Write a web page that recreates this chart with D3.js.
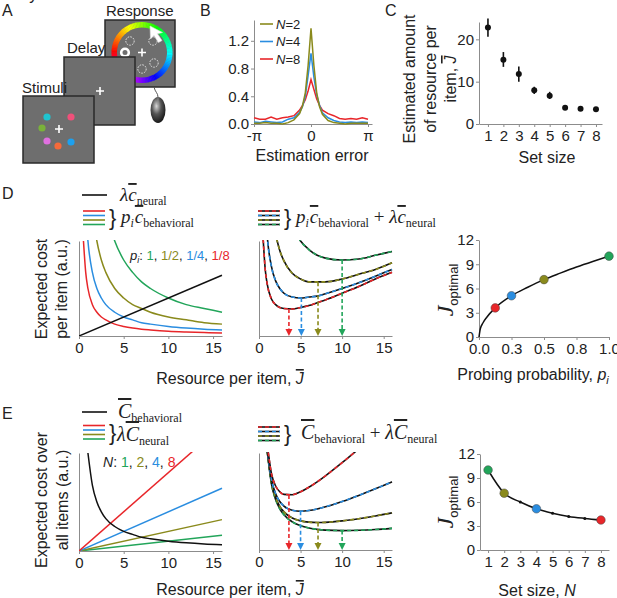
<!DOCTYPE html>
<html>
<head>
<meta charset="utf-8">
<script src="https://cdn.jsdelivr.net/npm/d3@7"></script>
<style>
body { margin: 0; background: #fff; }
text { font-family: "Liberation Sans", Arial, sans-serif; fill: #222; }
</style>
</head>
<body>
<svg id="fig" width="617" height="598"></svg>
<script>
// ---- data ----
// B: error distributions, x in units of pi
var errX   = [-1,-0.9,-0.8,-0.7,-0.6,-0.5,-0.4,-0.3,-0.2,-0.15,-0.1,-0.05,0,0.05,0.1,0.15,0.2,0.3,0.4,0.5,0.6,0.7,0.8,0.9,1];
var probN2 = [0.01,0.01,0.02,0.01,0.01,0.0,0.02,0.06,0.15,0.26,0.45,0.85,1.38,0.85,0.45,0.25,0.14,0.05,0.02,0.01,0.0,0.01,0.01,0.01,0.01];
var probN4 = [0.03,0.02,0.04,0.03,0.02,0.03,0.07,0.09,0.17,0.25,0.40,0.70,1.02,0.68,0.42,0.27,0.16,0.09,0.05,0.03,0.02,0.03,0.02,0.03,0.02];
var probN8 = [0.09,0.07,0.07,0.10,0.07,0.09,0.10,0.12,0.20,0.27,0.35,0.48,0.64,0.50,0.36,0.27,0.20,0.15,0.12,0.08,0.07,0.08,0.07,0.09,0.07];
var bLegend = ["2", "4", "8"];

// C: estimated resource per item
var setSizes = [1,2,3,4,5,6,7,8];
var jMean = [22.8,15.2,11.8,8.0,6.7,3.85,3.6,3.5];
var jLo   = [20.6,13.5,10.0,7.1,5.9,3.55,3.3,3.2];
var jHi   = [24.9,17.0,13.6,8.8,7.6,4.15,3.9,3.8];

// D, E: resource grid
var jGrid = [0.5,0.75,1,1.5,2,2.5,3,4,5,6,7,8,10,12,14,16];
// D left: p_i * behavioral cost
var dBehRed   = [1.0,0.67,0.5,0.33,0.25,0.2,0.17,0.125,0.1,0.083,0.071,0.063,0.05,0.042,0.036,0.031];
var dBehBlue  = [null,1.33,1.0,0.67,0.5,0.4,0.33,0.25,0.2,0.17,0.14,0.125,0.1,0.083,0.071,0.063];
var dBehOlive = [null,null,null,1.33,1.0,0.8,0.67,0.5,0.4,0.33,0.29,0.25,0.2,0.17,0.14,0.125];
var dBehGreen = [null,null,null,null,null,null,1.33,1.0,0.8,0.67,0.57,0.5,0.4,0.33,0.29,0.25];
var dNeuralJ = [0,16];
var dNeural  = [0,0.64];
// D middle: total cost
var dTotRed   = [1.02,0.70,0.54,0.39,0.33,0.30,0.29,0.285,0.30,0.32,0.35,0.38,0.45,0.52,0.60,0.67];
var dTotBlue  = [null,1.36,1.04,0.73,0.58,0.50,0.45,0.41,0.40,0.41,0.42,0.445,0.50,0.56,0.63,0.70];
var dTotOlive = [null,null,null,1.39,1.08,0.90,0.79,0.66,0.60,0.57,0.57,0.57,0.60,0.65,0.70,0.77];
var dTotGreen = [null,null,null,null,null,null,1.45,1.16,1.0,0.91,0.85,0.82,0.80,0.81,0.85,0.89];
var dOptJ    = [3.6,5.1,7.1,10];
var dOptCost = [0.283,0.40,0.566,0.80];
// D right: optimal J vs probing probability
var pGrid   = [0,0.01,0.03,0.06,0.125,0.25,0.375,0.5,0.625,0.75,0.875,1];
var pJopt   = [0,1.0,1.73,2.45,3.6,5.1,6.15,7.1,7.9,8.66,9.35,10];
var pMarks  = [0.125,0.25,0.5,1];
var pMarkJ  = [3.6,5.1,7.1,10];
var pLabels = ["1","1/2","1/4","1/8"];

// E left
var eBeh = [null,null,1.0,0.67,0.5,0.4,0.33,0.25,0.2,0.17,0.14,0.125,0.1,0.083,0.071,0.063];
var eNeuralJ = [0,16];
var eNeuralN1 = [0,0.16], eNeuralN2 = [0,0.32], eNeuralN4 = [0,0.64], eNeuralN8 = [0,1.28];
// E middle: total cost
var eTotN1 = [null,null,1.01,0.68,0.52,0.425,0.363,0.29,0.25,0.227,0.213,0.205,0.20,0.203,0.211,0.223];
var eTotN2 = [null,null,1.02,0.70,0.54,0.45,0.393,0.33,0.30,0.287,0.283,0.285,0.30,0.323,0.351,0.383];
var eTotN4 = [null,null,1.04,0.727,0.58,0.50,0.453,0.41,0.40,0.407,0.423,0.445,0.50,0.563,0.631,0.703];
var eTotN8 = [null,null,1.08,0.787,0.66,0.60,0.573,0.57,0.60,0.647,0.703,0.765,0.90,1.043,1.19,null];
var eOptJ    = [3.6,5.0,7.1,10];
var eOptCost = [0.566,0.40,0.283,0.20];
// E right
var eSetJopt = [10,7.1,6.0,5.15,4.6,4.2,3.95,3.75];
var nLabels = ["1","2","4","8"];

var cRed = "#e8262a", cBlue = "#2a8de0", cOlive = "#8a8a1c", cGreen = "#22a55a";
var axCol = "#8c8c8c";

var svg = d3.select("#fig");
svg.append("rect").attr("width", 617).attr("height", 598).attr("fill", "#fff");

function letter(t, x, y) {
    svg.append("text").attr("x", x).attr("y", y).attr("font-size", 16).text(t);
}

function axes(x, y, xTicks, yTicks, xFmt) {
    var gx = svg.append("g")
        .attr("transform", "translate(0," + y.range()[0] + ")")
        .call(d3.axisBottom(x).tickValues(xTicks).tickFormat(xFmt || null)
            .tickSize(3).tickSizeOuter(0).tickPadding(3));
    var gy = svg.append("g")
        .attr("transform", "translate(" + x.range()[0] + ",0)")
        .call(d3.axisLeft(y).tickValues(yTicks).tickSize(3).tickSizeOuter(0).tickPadding(2));
    [gx, gy].forEach(function(a) {
        a.attr("font-family", "Liberation Sans, Arial, sans-serif").attr("font-size", 15);
        a.select(".domain").attr("stroke", axCol);
        a.selectAll(".tick line").attr("stroke", axCol);
        a.selectAll(".tick text").attr("fill", "#333");
    });
}

function vlabel(lines, x, y, gap, fs) {
    lines.forEach(function(l, i) {
        svg.append("text")
            .attr("transform", "translate(" + (x + i * gap) + "," + y + ") rotate(-90)")
            .attr("text-anchor", "middle").attr("font-size", fs || 16).text(l);
    });
}

function clip(id, x, y) {
    svg.append("clipPath").attr("id", id).append("rect")
        .attr("x", x.range()[0]).attr("y", y.range()[1] - 1)
        .attr("width", x.range()[1] - x.range()[0] + 2)
        .attr("height", y.range()[0] - y.range()[1] + 1);
}

function curve(x, y, xs, ys, col, cp, dashed) {
    var pts = xs.map(function(v, i) { return [v, ys[i]]; }).filter(function(d) { return d[1] != null; });
    var line = d3.line().x(function(d) { return x(d[0]); }).y(function(d) { return y(d[1]); })
        .curve(d3.curveMonotoneX);
    var g = svg.append("g").attr("clip-path", "url(#" + cp + ")");
    if (dashed) {
        g.append("path").datum(pts).attr("d", line).attr("fill", "none").attr("stroke", "#111").attr("stroke-width", 1.6);
        g.append("path").datum(pts).attr("d", line).attr("fill", "none").attr("stroke", col)
            .attr("stroke-width", 1.6).attr("stroke-dasharray", "4,3");
    } else {
        g.append("path").datum(pts).attr("d", line).attr("fill", "none").attr("stroke", col).attr("stroke-width", 1.5);
    }
}

function arrows(x, y, js, cs, cols) {
    js.forEach(function(j, i) {
        var px = x(j), top = y(cs[i]), bot = y.range()[0];
        svg.append("line").attr("x1", px).attr("x2", px).attr("y1", top).attr("y2", bot - 6)
            .attr("stroke", cols[i]).attr("stroke-width", 1.6).attr("stroke-dasharray", "4,2.5");
        svg.append("path").attr("d", "M" + (px - 3.5) + "," + (bot - 7) + "L" + (px + 3.5) + "," + (bot - 7) + "L" + px + "," + bot + "Z")
            .attr("fill", cols[i]);
    });
}

// formula helper: parts = [text, {italic, size, dy, over, dx}]
function formula(x, y, parts) {
    var t = svg.append("text").attr("x", x).attr("y", y)
        .attr("font-family", "Liberation Serif, Times New Roman, serif");
    parts.forEach(function(p) {
        var s = t.append("tspan").text(p[0])
            .attr("font-family", "Liberation Serif, Times New Roman, serif")
            .attr("font-size", p[1].size || 19)
            .attr("font-style", p[1].italic ? "italic" : "normal");
        if (p[1].dy) s.attr("dy", p[1].dy);
        if (p[1].dx) s.attr("dx", p[1].dx);
        if (p[1].over) s.style("text-decoration", "overline");
    });
}

function legendLines(x, ys, cols, dashed) {
    ys.forEach(function(yy, i) {
        if (dashed) svg.append("line").attr("x1", x).attr("x2", x + 22).attr("y1", yy).attr("y2", yy)
            .attr("stroke", "#111").attr("stroke-width", 1.6);
        svg.append("line").attr("x1", x).attr("x2", x + 22).attr("y1", yy).attr("y2", yy)
            .attr("stroke", cols[i]).attr("stroke-width", 1.6).attr("stroke-dasharray", dashed ? "4,3" : null);
    });
}

function brace(x, y) {
    svg.append("text").attr("x", x).attr("y", y).attr("font-size", 22)
        .attr("font-family", "Liberation Serif, serif").text("}");
}

// ================= A: task =================
letter("A", 2, 16);
var gA = svg.append("g");
function screen(x, y, w, h) {
    gA.append("rect").attr("x", x).attr("y", y).attr("width", w).attr("height", h)
        .attr("fill", "#6e6e6e").attr("stroke", "#2a2a2a").attr("stroke-width", 1.5);
}
function cross(cx, cy) {
    gA.append("path").attr("d", "M" + (cx - 4) + "," + cy + "H" + (cx + 4) + "M" + cx + "," + (cy - 4) + "V" + (cy + 4))
        .attr("stroke", "#fff").attr("stroke-width", 1.6);
}
// response screen
screen(105, 20, 70, 67);
var wheel = d3.arc().innerRadius(25).outerRadius(30.5);
d3.range(0, 120).forEach(function(i) {
    var a0 = i / 120 * 2 * Math.PI, a1 = (i + 1.2) / 120 * 2 * Math.PI;
    var hue = ((i / 120 * 360) + 90) % 360;
    gA.append("path").attr("transform", "translate(142,52.5)")
        .attr("d", wheel({startAngle: a0, endAngle: a1}))
        .attr("fill", d3.hsl(hue, 1, 0.5).toString());
});
[[130, 41], [153, 41], [142, 69], [154, 63]].forEach(function(p) {
    gA.append("circle").attr("cx", p[0]).attr("cy", p[1]).attr("r", 4.2).attr("fill", "none")
        .attr("stroke", "#eee").attr("stroke-width", 0.9).attr("stroke-dasharray", "1.6,1.2");
});
gA.append("circle").attr("cx", 125).attr("cy", 52.5).attr("r", 3.8).attr("fill", "#6e6e6e")
    .attr("stroke", "#fff").attr("stroke-width", 2.6);
cross(142, 52.5);
gA.append("path").attr("d", "M150,26 L150.5,39 L154,35.5 L158.5,42.5 L162,40.5 L157.5,33.8 L162.5,32.5 Z")
    .attr("fill", "#fff").attr("stroke", "#ddd").attr("stroke-width", 0.6);
// mouse
var grad = svg.append("defs").append("radialGradient").attr("id", "mouseG").attr("cx", "40%").attr("cy", "35%").attr("r", "70%");
grad.append("stop").attr("offset", "0%").attr("stop-color", "#d8d8d8");
grad.append("stop").attr("offset", "45%").attr("stop-color", "#555");
grad.append("stop").attr("offset", "100%").attr("stop-color", "#111");
gA.append("path").attr("d", "M154,87 C155,92 158,93 158,97").attr("fill", "none").attr("stroke", "#555").attr("stroke-width", 1);
gA.append("ellipse").attr("cx", 158).attr("cy", 110).attr("rx", 7.5).attr("ry", 13).attr("fill", "url(#mouseG)");
gA.append("path").attr("d", "M158,97.5 V105").attr("stroke", "#999").attr("stroke-width", 0.7);
// delay screen
screen(64, 57, 71, 68);
cross(100, 91);
// stimuli screen
screen(23, 96, 71, 67);
cross(59, 129);
[[47, 117, "#1fc4d0"], [71, 117, "#f0507a"], [42, 128, "#7ab23a"], [47, 141, "#e070e0"], [58, 146, "#f66a3a"], [71, 142, "#1da0ee"]]
    .forEach(function(p) {
        gA.append("circle").attr("cx", p[0]).attr("cy", p[1]).attr("r", 3.6).attr("fill", p[2]);
    });
svg.append("text").attr("x", 106).attr("y", 16).attr("font-size", 15).text("Response");
svg.append("text").attr("x", 67).attr("y", 53).attr("font-size", 15).text("Delay");
svg.append("text").attr("x", 22).attr("y", 93).attr("font-size", 15).text("Stimuli");

// ================= B =================
letter("B", 200, 16);
var xB = d3.scaleLinear().domain([-1, 1.07]).range([254, 372]);
var yB = d3.scaleLinear().domain([0, 1.5]).range([124, 20]);
axes(xB, yB, [-1, 0, 1], [0, 0.4, 0.8, 1.2], function(d) { return d === -1 ? "-\u03c0" : d === 1 ? "\u03c0" : "0"; });
var lineB = d3.line().x(function(d, i) { return xB(errX[i]); }).y(function(d) { return yB(d); });
[[probN8, cRed], [probN4, cBlue], [probN2, cOlive]].forEach(function(s) {
    svg.append("path").datum(s[0]).attr("d", lineB).attr("fill", "none").attr("stroke", s[1]).attr("stroke-width", 1.5);
});
[cOlive, cBlue, cRed].forEach(function(c, i) {
    var yy = 24 + i * 17.5;
    svg.append("line").attr("x1", 260).attr("x2", 273).attr("y1", yy).attr("y2", yy).attr("stroke", c).attr("stroke-width", 1.6);
    var t = svg.append("text").attr("x", 276).attr("y", yy + 4.5).attr("font-size", 13);
    t.append("tspan").attr("font-style", "italic").text("N");
    t.append("tspan").text("=" + bLegend[i]);
});
vlabel(["Probability"], 220, 70);
svg.append("text").attr("x", 312).attr("y", 161).attr("text-anchor", "middle").attr("font-size", 16).text("Estimation error");

// ================= C =================
letter("C", 385, 16);
var xC = d3.scaleLinear().domain([0.42, 8.39]).range([479, 602]);
var yC = d3.scaleLinear().domain([0, 24.1]).range([124, 22]);
axes(xC, yC, setSizes, [0, 10, 20]);
setSizes.forEach(function(s, i) {
    svg.append("line").attr("x1", xC(s)).attr("x2", xC(s)).attr("y1", yC(jLo[i])).attr("y2", yC(jHi[i]))
        .attr("stroke", "#111").attr("stroke-width", 1.6);
    svg.append("circle").attr("cx", xC(s)).attr("cy", yC(jMean[i])).attr("r", 3).attr("fill", "#111");
});
vlabel(["Estimated amount", "of resource per"], 415, 79, 21);
var tJ = svg.append("text").attr("transform", "translate(456,79) rotate(-90)").attr("text-anchor", "middle").attr("font-size", 16);
tJ.append("tspan").text("item, ");
tJ.append("tspan").attr("font-style", "italic").style("text-decoration", "overline").text("J");
svg.append("text").attr("x", 547).attr("y", 163).attr("text-anchor", "middle").attr("font-size", 16).text("Set size");

// ================= D =================
letter("D", 2, 199);
// legends
svg.append("line").attr("x1", 82).attr("x2", 107).attr("y1", 195).attr("y2", 195).attr("stroke", "#111").attr("stroke-width", 1.6);
formula(120, 201, [["\u03bb", {italic: true}], ["c", {italic: true, over: true}], ["neural", {size: 12, dy: 4}]]);
legendLines(83, [211, 215.5, 220, 224.5], [cRed, cBlue, cOlive, cGreen], false);
brace(109, 225);
formula(121, 223, [["p", {italic: true}], ["i", {italic: true, size: 12, dy: 4}], ["c", {italic: true, over: true, dy: -4, dx: 1}], ["behavioral", {size: 12, dy: 4}]]);
legendLines(258, [211, 215.5, 220, 224.5], [cRed, cBlue, cOlive, cGreen], true);
brace(284, 225);
formula(296, 223, [["p", {italic: true}], ["i", {italic: true, size: 12, dy: 4}], ["c", {italic: true, over: true, dy: -4, dx: 1}], ["behavioral", {size: 12, dy: 4}],
    [" + ", {size: 19, dy: -4}], ["\u03bb", {italic: true}], ["c", {italic: true, over: true}], ["neural", {size: 12, dy: 4}]]);

// D left
var xD1 = d3.scaleLinear().domain([0, 16]).range([79, 222]);
var yD1 = d3.scaleLinear().domain([0, 1]).range([336, 241]);
axes(xD1, yD1, [0, 5, 10, 15], []);
clip("cD1", xD1, yD1);
curve(xD1, yD1, jGrid, dBehGreen, cGreen, "cD1");
curve(xD1, yD1, jGrid, dBehOlive, cOlive, "cD1");
curve(xD1, yD1, jGrid, dBehBlue, cBlue, "cD1");
curve(xD1, yD1, jGrid, dBehRed, cRed, "cD1");
curve(xD1, yD1, dNeuralJ, dNeural, "#111", "cD1");
var tp = svg.append("text").attr("x", 130).attr("y", 260).attr("font-size", 13);
tp.append("tspan").attr("font-style", "italic").text("p");
tp.append("tspan").attr("font-style", "italic").attr("font-size", 9).attr("dy", 3).text("i");
tp.append("tspan").attr("dy", -3).text(": ");
[cGreen, cOlive, cBlue, cRed].forEach(function(c, i) {
    tp.append("tspan").attr("fill", c).text(pLabels[i]);
    if (i < 3) tp.append("tspan").text(", ");
});
vlabel(["Expected cost", "per item (a.u.)"], 47, 289, 20);

// D middle
var xD2 = d3.scaleLinear().domain([0, 16]).range([259, 392]);
var yD2 = d3.scaleLinear().domain([0, 1]).range([336, 241]);
axes(xD2, yD2, [0, 5, 10, 15], []);
clip("cD2", xD2, yD2);
curve(xD2, yD2, jGrid, dTotGreen, cGreen, "cD2", true);
curve(xD2, yD2, jGrid, dTotOlive, cOlive, "cD2", true);
curve(xD2, yD2, jGrid, dTotBlue, cBlue, "cD2", true);
curve(xD2, yD2, jGrid, dTotRed, cRed, "cD2", true);
arrows(xD2, yD2, dOptJ, dOptCost, [cRed, cBlue, cOlive, cGreen]);
var tR = svg.append("text").attr("x", 230).attr("y", 384).attr("text-anchor", "middle").attr("font-size", 16);
tR.append("tspan").text("Resource per item, ");
tR.append("tspan").attr("font-style", "italic").style("text-decoration", "overline").text("J");

// D right
var xD3 = d3.scaleLinear().domain([0, 1]).range([479, 609]);
var yD3 = d3.scaleLinear().domain([0, 12]).range([337, 240]);
axes(xD3, yD3, [0, 0.25, 0.5, 0.75, 1], [0, 3, 6, 9, 12]);
svg.append("path").datum(pGrid.map(function(p, i) { return [p, pJopt[i]]; }))
    .attr("d", d3.line().x(function(d) { return xD3(d[0]); }).y(function(d) { return yD3(d[1]); }).curve(d3.curveMonotoneX))
    .attr("fill", "none").attr("stroke", "#111").attr("stroke-width", 1.5);
[cRed, cBlue, cOlive, cGreen].forEach(function(c, i) {
    svg.append("circle").attr("cx", xD3(pMarks[i])).attr("cy", yD3(pMarkJ[i])).attr("r", 4.3)
        .attr("fill", c).attr("stroke", "#444").attr("stroke-width", 0.5);
});
function jOptLabel(x, y) {
    var t = svg.append("text").attr("transform", "translate(" + x + "," + y + ") rotate(-90)").attr("text-anchor", "middle");
    t.append("tspan").attr("font-family", "Liberation Serif, serif").attr("font-style", "italic").attr("font-size", 24).text("J");
    t.append("tspan").attr("font-size", 13).attr("dy", 5).text("optimal");
}
jOptLabel(453, 290);
var tPr = svg.append("text").attr("x", 533).attr("y", 380).attr("text-anchor", "middle").attr("font-size", 16);
tPr.append("tspan").text("Probing probability, ");
tPr.append("tspan").attr("font-style", "italic").text("p");
tPr.append("tspan").attr("font-style", "italic").attr("font-size", 11).attr("dy", 4).text("i");

// ================= E =================
letter("E", 2, 419);
svg.append("line").attr("x1", 82).attr("x2", 107).attr("y1", 412).attr("y2", 412).attr("stroke", "#111").attr("stroke-width", 1.6);
formula(118, 418, [["C", {italic: true, over: true, size: 20}], ["behavioral", {size: 12, dy: 4}]]);
legendLines(83, [425.5, 430, 434.5, 439], [cRed, cBlue, cOlive, cGreen], false);
brace(109, 440);
formula(117, 441, [["\u03bb", {italic: true, size: 20}], ["C", {italic: true, over: true, size: 20}], ["neural", {size: 12, dy: 4}]]);
legendLines(258, [427, 431.5, 436, 440.5], [cRed, cBlue, cOlive, cGreen], true);
brace(284, 441);
formula(301, 439, [["C", {italic: true, over: true, size: 20}], ["behavioral", {size: 12, dy: 4}],
    [" + ", {size: 19, dy: -4}], ["\u03bb", {italic: true, size: 20}], ["C", {italic: true, over: true, size: 20}], ["neural", {size: 12, dy: 4}]]);

// E left
var xE1 = d3.scaleLinear().domain([0, 16]).range([79, 222]);
var yE1 = d3.scaleLinear().domain([0, 1]).range([551, 453]);
axes(xE1, yE1, [0, 5, 10, 15], []);
clip("cE1", xE1, yE1);
curve(xE1, yE1, eNeuralJ, eNeuralN1, cGreen, "cE1");
curve(xE1, yE1, eNeuralJ, eNeuralN2, cOlive, "cE1");
curve(xE1, yE1, eNeuralJ, eNeuralN4, cBlue, "cE1");
curve(xE1, yE1, eNeuralJ, eNeuralN8, cRed, "cE1");
curve(xE1, yE1, jGrid, eBeh, "#111", "cE1");
var tN = svg.append("text").attr("x", 103).attr("y", 467).attr("font-size", 14);
tN.append("tspan").attr("font-style", "italic").text("N");
tN.append("tspan").text(": ");
[cGreen, cOlive, cBlue, cRed].forEach(function(c, i) {
    tN.append("tspan").attr("fill", c).text(nLabels[i]);
    if (i < 3) tN.append("tspan").text(", ");
});
vlabel(["Expected cost over", "all items (a.u.)"], 47, 500, 21);

// E middle
var xE2 = d3.scaleLinear().domain([0, 16]).range([259, 392]);
var yE2 = d3.scaleLinear().domain([0, 1]).range([550, 453]);
axes(xE2, yE2, [0, 5, 10, 15], []);
clip("cE2", xE2, yE2);
curve(xE2, yE2, jGrid, eTotN1, cGreen, "cE2", true);
curve(xE2, yE2, jGrid, eTotN2, cOlive, "cE2", true);
curve(xE2, yE2, jGrid, eTotN4, cBlue, "cE2", true);
curve(xE2, yE2, jGrid, eTotN8, cRed, "cE2", true);
arrows(xE2, yE2, eOptJ, eOptCost, [cRed, cBlue, cOlive, cGreen]);
var tR2 = svg.append("text").attr("x", 230).attr("y", 595).attr("text-anchor", "middle").attr("font-size", 16);
tR2.append("tspan").text("Resource per item, ");
tR2.append("tspan").attr("font-style", "italic").style("text-decoration", "overline").text("J");

// E right
var xE3 = d3.scaleLinear().domain([0.5, 8.5]).range([480, 609]);
var yE3 = d3.scaleLinear().domain([0, 12]).range([550, 454]);
axes(xE3, yE3, setSizes, [0, 3, 6, 9, 12]);
svg.append("path").datum(setSizes.map(function(s, i) { return [s, eSetJopt[i]]; }))
    .attr("d", d3.line().x(function(d) { return xE3(d[0]); }).y(function(d) { return yE3(d[1]); }).curve(d3.curveMonotoneX))
    .attr("fill", "none").attr("stroke", "#111").attr("stroke-width", 1.5);
setSizes.forEach(function(s, i) {
    var k = [1, 2, 4, 8].indexOf(s);
    if (k < 0) {
        svg.append("circle").attr("cx", xE3(s)).attr("cy", yE3(eSetJopt[i])).attr("r", 1.5).attr("fill", "#111");
    } else {
        svg.append("circle").attr("cx", xE3(s)).attr("cy", yE3(eSetJopt[i])).attr("r", 4.3)
            .attr("fill", [cGreen, cOlive, cBlue, cRed][k]).attr("stroke", "#444").attr("stroke-width", 0.5);
    }
});
jOptLabel(453, 502);
var tS = svg.append("text").attr("x", 537).attr("y", 596).attr("text-anchor", "middle").attr("font-size", 16);
tS.append("tspan").text("Set size, ");
tS.append("tspan").attr("font-style", "italic").text("N");
</script>
</body>
</html>
